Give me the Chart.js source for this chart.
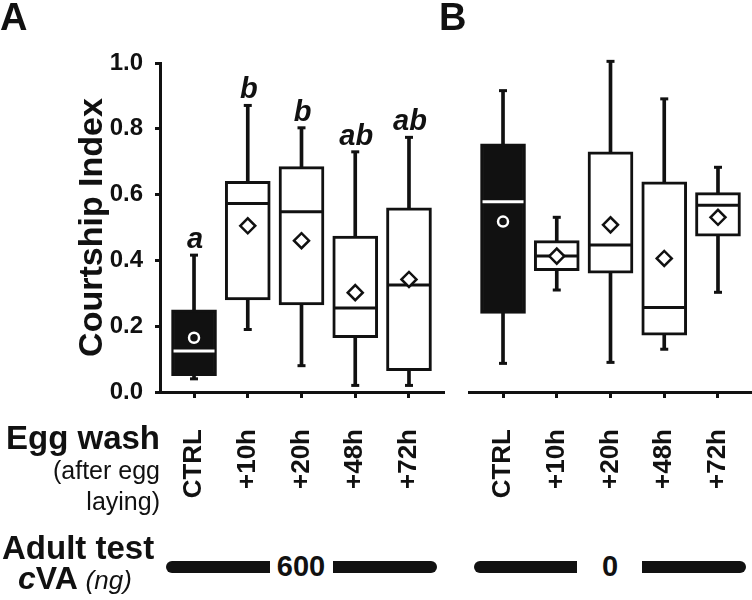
<!DOCTYPE html>
<html>
<head>
<meta charset="utf-8">
<script src="https://cdn.jsdelivr.net/npm/chart.js@4.4.0/dist/chart.umd.min.js"></script>
<style>
  body { margin: 0; background: #fff; }
  #wrap { position: relative; width: 752px; height: 600px; overflow: hidden; font-family: "Liberation Sans", Arial, sans-serif; color: #111; }
  canvas { position: absolute; top: 0; }
  #chartA { left: 0; }
  #chartB { left: 466px; }
  .lbl { position: absolute; line-height: 1; white-space: nowrap; }
  .bar { position: absolute; top: 561px; height: 12px; background: #111; }
</style>
</head>
<body>
<div id="wrap">
  <canvas id="chartA" width="446" height="520"></canvas>
  <canvas id="chartB" width="286" height="520"></canvas>

  <div class="lbl" style="left:0; top:-2px; font-size:38px; font-weight:bold;">A</div>
  <div class="lbl" style="left:439px; top:-2px; font-size:38px; font-weight:bold;">B</div>

  <div class="lbl" style="right:592px; top:421px; font-size:33px; font-weight:bold; text-align:right;">Egg wash</div>
  <div class="lbl" style="right:592px; top:458px; font-size:25px; text-align:right;">(after egg</div>
  <div class="lbl" style="right:592px; top:489px; font-size:25px; text-align:right;">laying)</div>

  <div class="lbl" style="left:2px; top:531px; font-size:33px; font-weight:bold;">Adult test</div>
  <div class="lbl" style="left:18px; top:562px; font-size:32px; font-weight:bold;"><i>c</i>VA <span style="font-weight:normal; font-style:italic; font-size:26px;">(ng)</span></div>

  <div class="bar" style="left:166px; width:104px; border-radius:6px 0 0 6px;"></div>
  <div class="lbl" style="left:276px; top:552px; font-size:29px; font-weight:bold; width:50px; text-align:center;">600</div>
  <div class="bar" style="left:333px; width:104px; border-radius:0 6px 6px 0;"></div>

  <div class="bar" style="left:474px; width:103px; border-radius:6px 0 0 6px;"></div>
  <div class="lbl" style="left:595px; top:552px; font-size:29px; font-weight:bold; width:30px; text-align:center;">0</div>
  <div class="bar" style="left:642px; width:104px; border-radius:0 6px 6px 0;"></div>
</div>

<script>
const groups = ['CTRL', '+10h', '+20h', '+48h', '+72h'];
const yTicks = [0, 0.2, 0.4, 0.6, 0.8, 1.0];
const sigLetters = ['a', 'b', 'b', 'ab', 'ab'];

// panel A (600 ng cVA)
const aMin  = [0.04, 0.19, 0.08, 0.02, 0.02];
const aQ1   = [0.05, 0.28, 0.265, 0.165, 0.065];
const aMed  = [0.125, 0.573, 0.548, 0.255, 0.325];
const aQ3   = [0.25, 0.64, 0.685, 0.474, 0.56];
const aMax  = [0.416, 0.871, 0.803, 0.73, 0.774];
const aMean = [0.165, 0.505, 0.46, 0.302, 0.342];

// panel B (0 ng cVA)
const bMin  = [0.087, 0.31, 0.09, 0.13, 0.303];
const bQ1   = [0.239, 0.369, 0.361, 0.173, 0.474];
const bMed  = [0.578, 0.413, 0.447, 0.257, 0.568];
const bQ3   = [0.754, 0.46, 0.73, 0.639, 0.606];
const bMax  = [0.916, 0.531, 1.005, 0.891, 0.683];
const bMean = [0.518, 0.413, 0.508, 0.406, 0.531];

const FONT = '"Liberation Sans", Arial, sans-serif';
const INK = '#111';
const isCtrl = i => groups[i] === 'CTRL';

function boxDatasets(mins, q1, med, q3, maxs, means) {
  const pts = arr => arr.map((v, i) => ({ x: i, y: v }));
  return [
    { // means
      type: 'line', showLine: false, order: 0,
      data: pts(means),
      pointStyle: groups.map((g, i) => isCtrl(i) ? 'circle' : 'rectRot'),
      pointRadius: groups.map((g, i) => isCtrl(i) ? 5 : 7.5),
      pointBackgroundColor: groups.map((g, i) => isCtrl(i) ? INK : '#fff'),
      pointBorderColor: groups.map((g, i) => isCtrl(i) ? '#fff' : INK),
      pointBorderWidth: 2.5
    },
    { // medians
      type: 'line', showLine: false, order: 1,
      data: pts(med),
      pointStyle: 'line', pointRadius: 20.5,
      pointBorderColor: groups.map((g, i) => isCtrl(i) ? '#fff' : INK),
      pointBorderWidth: 3
    },
    { // boxes
      type: 'bar', order: 2, grouped: false,
      data: groups.map((g, i) => ({ x: i, y: [q1[i], q3[i]] })),
      backgroundColor: groups.map((g, i) => isCtrl(i) ? INK : '#fff'),
      borderColor: INK, borderWidth: 3, borderSkipped: false,
      barThickness: 45
    },
    { // whisker caps
      type: 'line', showLine: false, order: 3, clip: false,
      data: pts(mins).concat(pts(maxs)),
      pointStyle: 'line', pointRadius: 4,
      pointBorderColor: INK, pointBorderWidth: 3
    },
    { // whiskers
      type: 'bar', order: 4, grouped: false, clip: false,
      data: groups.map((g, i) => ({ x: i, y: [mins[i], maxs[i]] })),
      backgroundColor: INK, borderWidth: 0,
      barThickness: 3
    }
  ];
}

function xScale() {
  return {
    type: 'linear', min: -0.633, max: 4.633, offset: false,
    afterBuildTicks: ax => { ax.ticks = groups.map((g, i) => ({ value: i })); },
    afterFit: ax => { ax.height = 128; ax.paddingLeft = 0; ax.paddingRight = 0; },
    border: { display: true, color: INK, width: 3 },
    grid: { offset: false, drawOnChartArea: false, drawTicks: true, tickLength: 6, color: INK, lineWidth: 3 },
    ticks: {
      autoSkip: false, minRotation: 90, maxRotation: 90, padding: 31, color: INK,
      font: { family: FONT, size: 26, weight: 'bold' },
      callback: v => groups[v]
    }
  };
}

const sigPlugin = {
  id: 'sig',
  afterDatasetsDraw(chart) {
    const { ctx, scales: { x, y } } = chart;
    ctx.save();
    ctx.font = 'italic bold 29px ' + FONT;
    ctx.textAlign = 'center';
    ctx.fillStyle = INK;
    sigLetters.forEach((t, i) => {
      ctx.fillText(t, x.getPixelForValue(i) + 1, y.getPixelForValue(aMax[i]) - 7);
    });
    ctx.restore();
  }
};

new Chart(document.getElementById('chartA'), {
  type: 'bar',
  data: { datasets: boxDatasets(aMin, aQ1, aMed, aQ3, aMax, aMean) },
  options: {
    responsive: false, animation: false, devicePixelRatio: 1, events: [],
    layout: { autoPadding: false, padding: { top: 63, right: 3, left: 0, bottom: 0 } },
    plugins: { legend: { display: false }, tooltip: { enabled: false } },
    scales: {
      x: xScale(),
      y: {
        min: 0, max: 1,
        afterBuildTicks: ax => { ax.ticks = yTicks.map(v => ({ value: v })); },
        afterFit: ax => { ax.width = 160; ax.paddingTop = 0; ax.paddingBottom = 0; },
        border: { display: true, color: INK, width: 3 },
        grid: { drawOnChartArea: false, drawTicks: true, tickLength: 5, color: INK, lineWidth: 3 },
        ticks: { color: INK, padding: 12, font: { family: FONT, size: 24, weight: 'bold' }, callback: v => v.toFixed(1) },
        title: {
          display: true, text: 'Courtship Index', color: INK,
          font: { family: FONT, size: 34, weight: 'bold' },
          padding: { top: 72, bottom: 0 }
        }
      }
    }
  },
  plugins: [sigPlugin]
});

new Chart(document.getElementById('chartB'), {
  type: 'bar',
  data: { datasets: boxDatasets(bMin, bQ1, bMed, bQ3, bMax, bMean) },
  options: {
    responsive: false, animation: false, devicePixelRatio: 1, events: [],
    layout: { autoPadding: false, padding: { top: 63, right: 0, left: 3, bottom: 0 } },
    plugins: { legend: { display: false }, tooltip: { enabled: false } },
    scales: {
      x: xScale(),
      y: { min: 0, max: 1, display: false }
    }
  }
});
</script>
</body>
</html>
